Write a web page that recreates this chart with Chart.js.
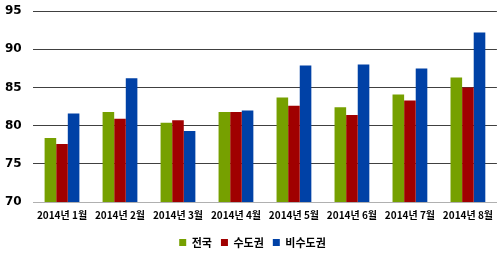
<!DOCTYPE html>
<html>
<head>
<meta charset="utf-8">
<script src="https://cdn.jsdelivr.net/npm/chart.js@4.4.0/dist/chart.umd.min.js"></script>
<style>
  html, body { margin: 0; padding: 0; background: #fff; }
  #wrap { width: 500px; height: 258px; position: relative; }
</style>
</head>
<body>
<div id="wrap"><canvas id="mainChart"></canvas></div>
<script>
// Chart data
const months = ["2014년 1월", "2014년 2월", "2014년 3월", "2014년 4월", "2014년 5월", "2014년 6월", "2014년 7월", "2014년 8월"];
const nationwide = [78.4, 81.8, 80.4, 81.8, 83.7, 82.4, 84.1, 86.3];
const capitalArea = [77.6, 80.9, 80.7, 81.8, 82.6, 81.4, 83.3, 85.0];
const nonCapitalArea = [81.6, 86.2, 79.3, 82.0, 87.9, 88.0, 87.5, 92.2];
const yTicks = [70, 75, 80, 85, 90, 95];

const labelFont = "'Noto Sans CJK KR', 'DejaVu Sans', sans-serif";

const ctx = document.getElementById("mainChart").getContext("2d");
new Chart(ctx, {
  type: "bar",
  data: {
    labels: months,
    datasets: [
      { label: "전국", data: nationwide, backgroundColor: "#76a000" },
      { label: "수도권", data: capitalArea, backgroundColor: "#a00000" },
      { label: "비수도권", data: nonCapitalArea, backgroundColor: "#0041a6" },
    ],
  },
  options: {
    responsive: true,
    maintainAspectRatio: false,
    animation: false,
    layout: { padding: { top: 11, right: 0, left: 5, bottom: 0 } },
    datasets: {
      bar: { barPercentage: 1.0, categoryPercentage: 0.6, borderWidth: 0 },
    },
    plugins: {
      tooltip: { enabled: false },
      legend: {
        position: "bottom",
        labels: {
          color: "#000",
          font: { size: 11, weight: "bold", family: labelFont },
          boxWidth: 7,
          boxHeight: 7,
          padding: 9,
        },
      },
    },
    scales: {
      y: {
        min: 70,
        max: 95,
        afterBuildTicks: (axis) => {
          axis.ticks = yTicks.map((v) => ({ value: v }));
        },
        afterFit: (axis) => {
          axis.width = 28;
        },
        ticks: {
          color: "#000",
          crossAlign: "far",
          padding: 4,
          font: { size: 12, weight: "bold", family: "'DejaVu Sans', sans-serif" },
        },
        grid: {
          color: (c) => (c.tick && c.tick.value === 70 ? "#b0b0b0" : "#404040"),
          lineWidth: 1,
          drawTicks: false,
        },
        border: { display: false },
      },
      x: {
        ticks: {
          color: "#000",
          padding: 7,
          maxRotation: 0,
          autoSkip: false,
          font: { size: 10, weight: "bold", family: labelFont },
        },
        grid: { display: false, drawTicks: false },
        border: { color: "#b0b0b0" },
      },
    },
  },
});
</script>
</body>
</html>
